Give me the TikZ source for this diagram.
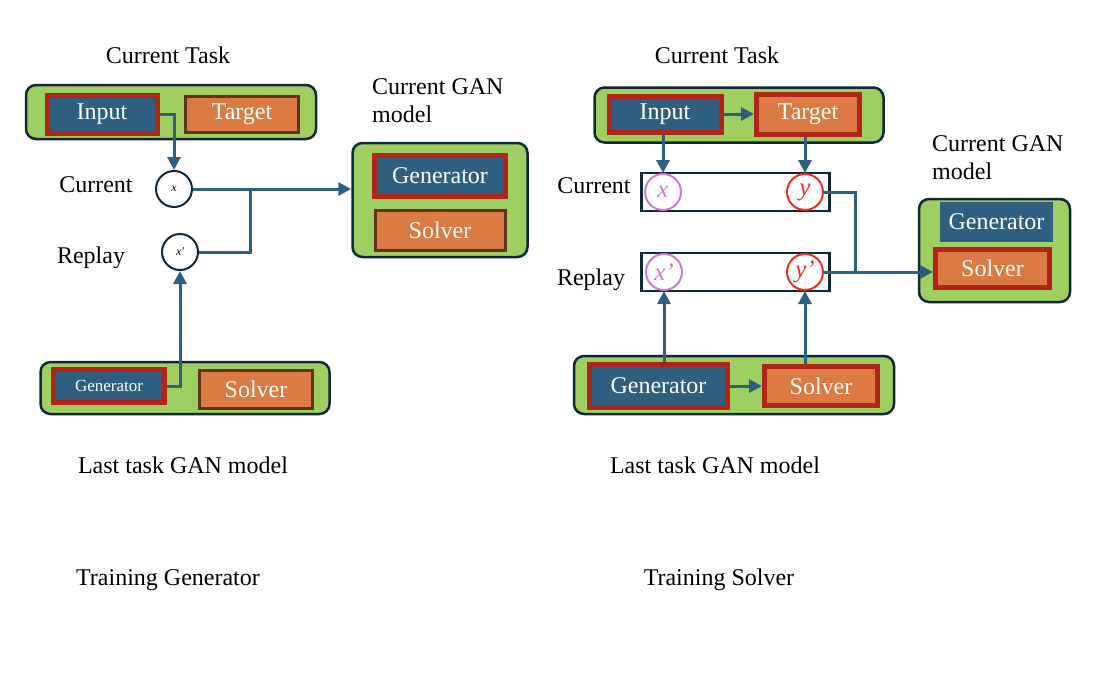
\documentclass[tikz,border=0pt]{standalone}
\usepackage{fontspec}
\setmainfont{Liberation Serif}
\usetikzlibrary{arrows.meta}
\definecolor{gfill}{HTML}{9FCF60}
\definecolor{navy}{HTML}{10273A}
\definecolor{bluef}{HTML}{2E5F80}
\definecolor{orangef}{HTML}{DB7A42}
\definecolor{redb}{HTML}{B0241A}
\definecolor{brownb}{HTML}{5E3317}
\definecolor{pinkc}{HTML}{D07ACD}
\definecolor{redc}{HTML}{E8321E}
\tikzset{
  gbox/.style={draw=navy, line width=2.5pt, fill=gfill, rounded corners=10pt, inner sep=0pt},
  bluebox/.style={fill=bluef, text=white, inner sep=0pt, font=\fontsize{24}{26}\selectfont},
  redbox/.style={draw=redb, line width=5pt},
  orangebox/.style={fill=orangef, text=white, inner sep=0pt, font=\fontsize{24}{26}\selectfont},
  brownbox/.style={draw=brownb, line width=3pt},
  circ/.style={circle, draw=navy, line width=2pt, fill=white, minimum size=36pt, inner sep=0pt, font=\fontsize{12}{14}\selectfont\itshape},
  pcirc/.style={circle, draw=pinkc, line width=2pt, fill=white, minimum size=36pt, inner sep=0pt, text=pinkc, font=\fontsize{25}{26}\selectfont\itshape},
  rcirc/.style={circle, draw=redc, line width=2pt, fill=white, minimum size=36pt, inner sep=0pt, text=redc, font=\fontsize{25}{26}\selectfont\itshape},
  slot/.style={draw=navy, line width=2.5pt, fill=white, inner sep=0pt},
  lbl/.style={font=\fontsize{24}{28}\selectfont, inner sep=0pt},
  line/.style={draw=bluef, line width=3pt},
  arr/.style={line, -{Triangle[length=13pt,width=13pt]}},
}
\begin{document}
\begin{tikzpicture}[x=1pt,y=-1pt]
\useasboundingbox (0,0) rectangle (1120,683);
% ---------------- Left: Training Generator ----------------
\node[lbl] (lct) at (168,55) {Current Task};
\node[gbox, minimum width=290pt, minimum height=54pt] (ltask) at (171,112) {};
\node[bluebox, redbox, minimum width=110pt, minimum height=38pt] (lin) at (102,114) {Input};
\node[orangebox, brownbox, minimum width=113pt, minimum height=36pt] (ltg) at (242,114) {Target};

\node[lbl] (lcur) at (96,185) {Current};
\node[lbl] (lrep) at (91,258) {Replay};
\node[circ] (cx) at (174,189) {x};
\node[circ] (cxp) at (180,252) {x′};

\node[lbl, align=left, anchor=north west] (lcgan) at (372,78) {Current GAN\\model};
\node[gbox, minimum width=175pt, minimum height=114pt] (lgan) at (440,200) {};
\node[bluebox, redbox, minimum width=131pt, minimum height=41pt] (lgen2) at (440,176) {Generator};
\node[orangebox, brownbox, minimum width=130pt, minimum height=40pt] (lsol2) at (440,230) {Solver};

\node[gbox, minimum width=289pt, minimum height=52pt] (llast) at (185,388) {};
\node[bluebox, redbox, font=\fontsize{17}{20}\selectfont, minimum width=111pt, minimum height=33pt] (lgen) at (109,386) {Generator};
\node[orangebox, brownbox, minimum width=113pt, minimum height=38pt] (lsol) at (256,389) {Solver};

\node[lbl] (llt) at (183,465) {Last task GAN model};
\node[lbl] (ltr) at (168,580) {Training Generator};

\draw[arr] (lin.east) -| (cx.north);
\draw[arr] (cx.east) -- (lgan.west |- cx.east);
\coordinate (m1) at (250,189);
\draw[line] (cxp.east) -| (m1);
\draw[arr] (lgen.east) -| (cxp.south);

% ---------------- Right: Training Solver ----------------
\node[lbl] (rct) at (717,55) {Current Task};
\node[gbox, minimum width=289pt, minimum height=55pt] (rtask) at (739,115) {};
\node[bluebox, redbox, minimum width=112pt, minimum height=36pt] (rin) at (665,114) {Input};
\node[orangebox, redbox, minimum width=103pt, minimum height=40pt] (rtg) at (808,114) {Target};

\node[lbl] (rcur) at (594,186) {Current};
\node[lbl] (rrep) at (591,280) {Replay};
\node[slot, minimum width=188pt, minimum height=38pt] (rcurs) at (735.5,192) {};
\node[slot, minimum width=188pt, minimum height=38pt] (rreps) at (735.5,272) {};
\node[pcirc] (rx) at (663,192) {x};
\node[rcirc] (ry) at (805,192) {y};
\node[pcirc] (rxp) at (664,272) {x’};
\node[rcirc] (ryp) at (805,272) {y’};

\node[lbl, align=left, anchor=north west] (rcgan) at (932,135) {Current GAN\\model};
\node[gbox, minimum width=151pt, minimum height=103pt] (rgan) at (994.5,250.5) {};
\node[bluebox, minimum width=113pt, minimum height=40pt] (rgen2) at (996.5,222) {Generator};
\node[orangebox, redbox, minimum width=114pt, minimum height=38pt] (rsol2) at (992.5,268.5) {Solver};

\node[gbox, minimum width=320pt, minimum height=58pt] (rlast) at (734,385) {};
\node[bluebox, redbox, minimum width=138pt, minimum height=43pt] (rgen) at (658.5,386) {Generator};
\node[orangebox, redbox, minimum width=113pt, minimum height=39pt] (rsol) at (821,386) {Solver};

\node[lbl] (rlt) at (715,465) {Last task GAN model};
\node[lbl] (rtr) at (719,580) {Training Solver};

\draw[arr] (rin.east) -- (rtg.west);
\draw[arr] (rx.north |- rin.south) -- (rx.north);
\draw[arr] (ry.north |- rtg.south) -- (ry.north);
\coordinate (m2) at (855,272);
\draw[line] (ry.east) -| (m2);
\draw[arr] (ryp.east) -- (rsol2.west |- ryp.east);
\draw[arr] (rxp.south |- rgen.north) -- (rxp.south);
\draw[arr] (ryp.south |- rsol.north) -- (ryp.south);
\draw[arr] (rgen.east) -- (rsol.west);
\end{tikzpicture}
\end{document}
